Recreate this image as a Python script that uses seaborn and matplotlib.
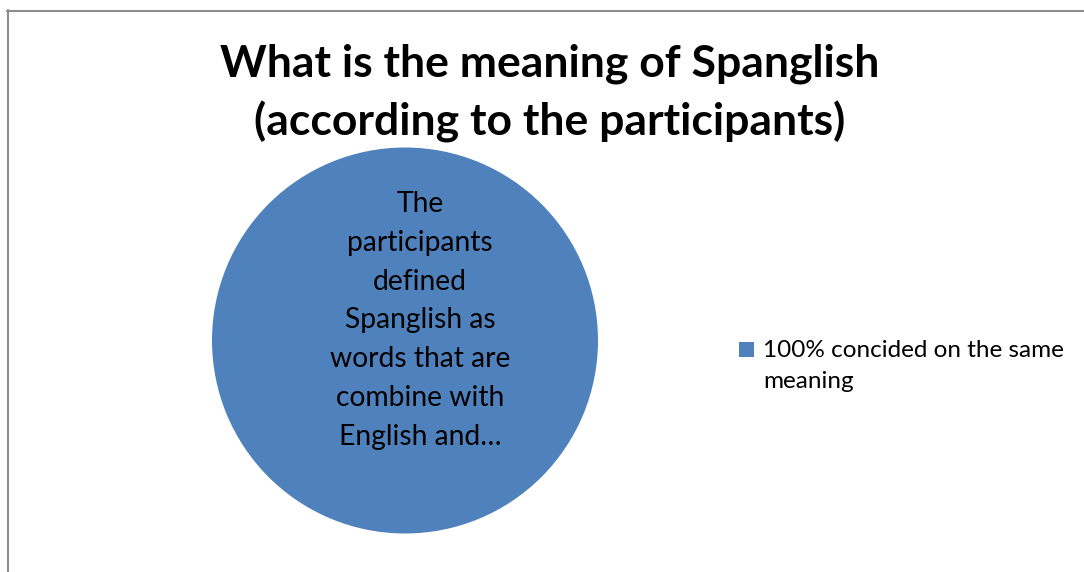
import matplotlib
matplotlib.use("Agg")
import matplotlib.pyplot as plt
from matplotlib.lines import Line2D
from matplotlib.patches import Rectangle
import seaborn as sns

# Survey result: every participant gave the same definition
categories = ["100% concided on the same meaning"]
shares = [100]
legend_lines = ["100% concided on the same", "meaning"]
label_lines = ["The", "participants", "defined", "Spanglish as",
               "words that are", "combine with", "English and…"]
title_lines = ["What is the meaning of Spanglish",
               "(according to the participants)"]

W, H = 1084, 572
sns.set_theme(style="white")
plt.rcParams["font.family"] = ["Lato", "DejaVu Sans"]
palette = sns.color_palette(["#4F81BD"])

fig = plt.figure(figsize=(W / 100, H / 100), dpi=100)
fig.patch.set_facecolor("white")


def fx(px):
    return px / W


def fy(py):
    return 1 - py / H


# chart frame (top and left edges)
frame_color = "#8c8c8c"
fig.add_artist(Line2D([fx(7), fx(W)], [fy(10.5), fy(10.5)],
                      transform=fig.transFigure, color=frame_color, lw=1.5))
fig.add_artist(Line2D([fx(7.5), fx(7.5)], [fy(10), fy(H)],
                      transform=fig.transFigure, color=frame_color, lw=1.5))

# title
title_baselines = [77, 136]
for line, base in zip(title_lines, title_baselines):
    fig.text(fx(550), fy(base), line, ha="center", va="baseline",
             fontsize=32, fontweight="bold", color="black")

# pie
cx, cy, r = 405, 340.5, 193
ax = fig.add_axes([fx(cx - r), fy(cy + r), 2 * r / W, 2 * r / H])
wedges, _ = ax.pie(shares, colors=palette, startangle=90, counterclock=False,
                   radius=1, wedgeprops=dict(linewidth=0))
ax.set_xlim(-1, 1)
ax.set_ylim(-1, 1)
ax.axis("off")

# data label inside the slice
label_x = (420 - cx) / r
first_base, step = 212, 38.8
for i, line in enumerate(label_lines):
    base = first_base + i * step
    ax.text(label_x, (cy - base) / r, line, ha="center", va="baseline",
            fontsize=20.3, color="black")

# legend
fig.add_artist(Rectangle((fx(738.5), fy(357)), 15 / W, 15 / H,
                         transform=fig.transFigure,
                         facecolor=wedges[0].get_facecolor(), edgecolor="none"))
for line, base in zip(legend_lines, [357, 388]):
    fig.text(fx(763), fy(base), line, ha="left", va="baseline",
             fontsize=17.5, color="black")

fig.savefig("out.png", dpi=100, facecolor="white")
